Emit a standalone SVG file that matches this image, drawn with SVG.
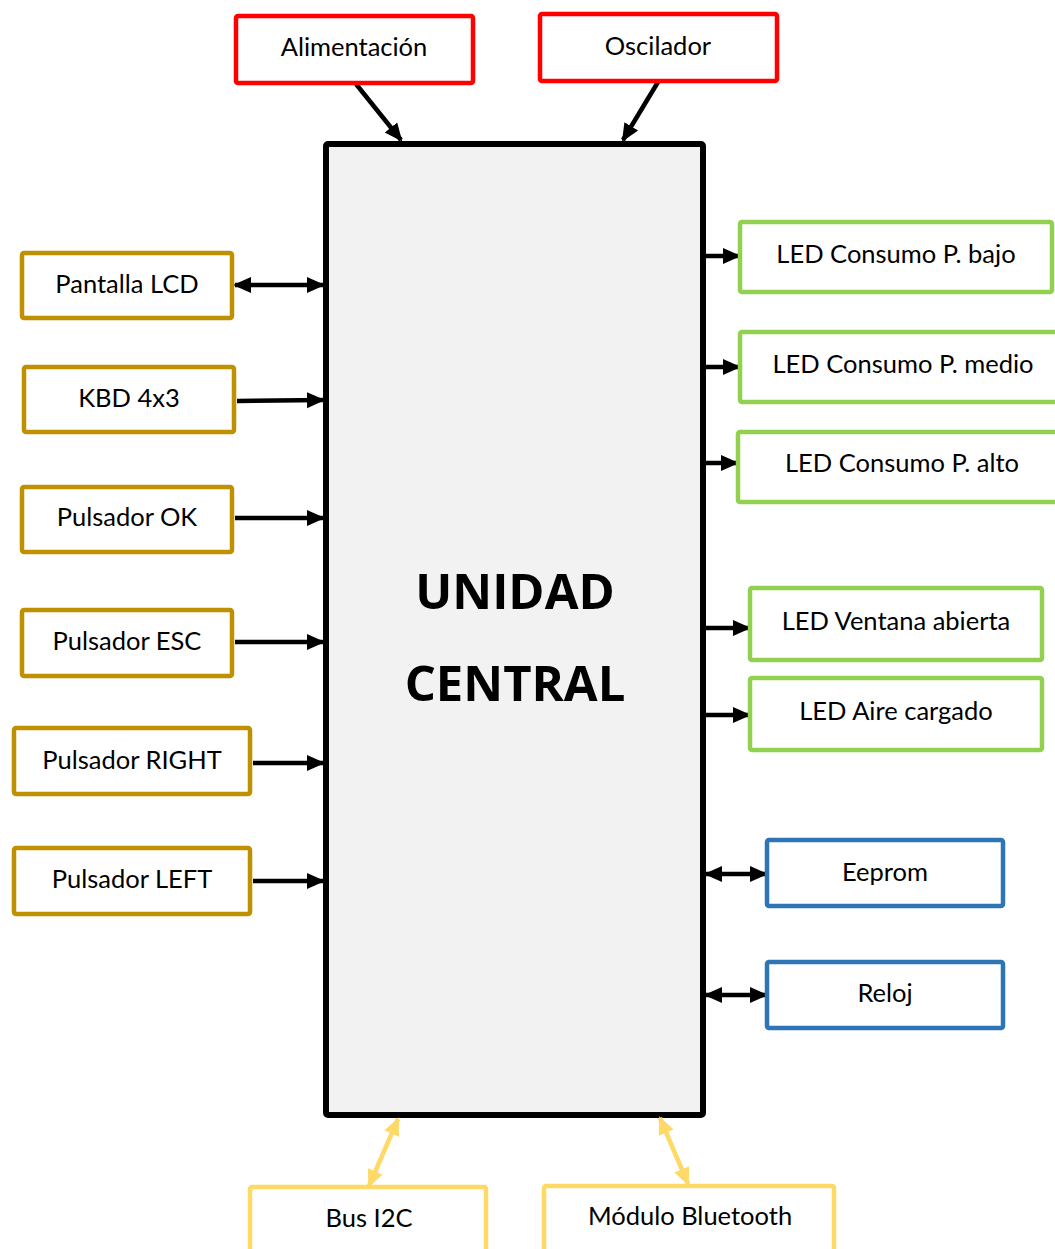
<svg xmlns="http://www.w3.org/2000/svg" width="1055" height="1249" viewBox="0 0 1055 1249">
<style>
.n rect{fill:#fff;stroke-width:4.5}
.red rect{stroke:#ff0000}
.gold rect{stroke:#bf9000}
.green rect{stroke:#92d050}
.blue rect{stroke:#2e75b6}
.yel rect{stroke:#ffd966}
text{font-family:Lato,"Liberation Sans",sans-serif;font-size:25.5px;fill:#000;text-anchor:middle;dominant-baseline:central}
.big{font-family:"Open Sans","Liberation Sans",sans-serif;font-size:49px;font-weight:bold}
.c line{stroke:#000;stroke-width:4.5}
.c line.y{stroke:#ffd966}
</style>
<defs>
<marker id="a" markerUnits="userSpaceOnUse" markerWidth="18" markerHeight="18" refX="16" refY="9" orient="auto-start-reverse" viewBox="0 0 18 18"><path d="M0,1 L18,9 L0,17 Z" fill="#000"/></marker>
<marker id="ay" markerUnits="userSpaceOnUse" markerWidth="18" markerHeight="18" refX="16" refY="9" orient="auto-start-reverse" viewBox="0 0 18 18"><path d="M0,1 L18,9 L0,17 Z" fill="#ffd966"/></marker>
</defs>
<rect width="1055" height="1249" fill="#fff"/>
<g id="central">
<rect x="326" y="144" width="377" height="971" fill="#f2f2f2" stroke="#000" stroke-width="6" rx="2"/>
<text class="big" x="515" y="590">UNIDAD</text>
<text class="big" x="515" y="682">CENTRAL</text>
</g>
<g class="c">
<line x1="356" y1="84" x2="401" y2="140" marker-end="url(#a)"/>
<line x1="658" y1="82" x2="623" y2="140" marker-end="url(#a)"/>
<line x1="235" y1="285" x2="323" y2="285" marker-start="url(#a)" marker-end="url(#a)"/>
<line x1="237" y1="401" x2="323" y2="400" marker-end="url(#a)"/>
<line x1="235" y1="518" x2="323" y2="518" marker-end="url(#a)"/>
<line x1="235" y1="642" x2="323" y2="642" marker-end="url(#a)"/>
<line x1="253" y1="763" x2="323" y2="763" marker-end="url(#a)"/>
<line x1="253" y1="881" x2="323" y2="881" marker-end="url(#a)"/>
<line x1="706" y1="256" x2="739" y2="256" marker-end="url(#a)"/>
<line x1="706" y1="367" x2="739" y2="367" marker-end="url(#a)"/>
<line x1="706" y1="463" x2="737" y2="463" marker-end="url(#a)"/>
<line x1="706" y1="628" x2="749" y2="628" marker-end="url(#a)"/>
<line x1="706" y1="715" x2="749" y2="715" marker-end="url(#a)"/>
<line x1="706" y1="874" x2="766" y2="874" marker-start="url(#a)" marker-end="url(#a)"/>
<line x1="706" y1="995" x2="766" y2="995" marker-start="url(#a)" marker-end="url(#a)"/>
<line class="y" x1="398" y1="1119" x2="369" y2="1186" marker-start="url(#ay)" marker-end="url(#ay)"/>
<line class="y" x1="660" y1="1118" x2="688" y2="1184" marker-start="url(#ay)" marker-end="url(#ay)"/>
</g>
<g id="alimentacion" class="n red"><rect x="236" y="16" width="237" height="67" rx="2"/><text x="354" y="46">Alimentación</text></g>
<g id="oscilador" class="n red"><rect x="540" y="14" width="237" height="67" rx="2"/><text x="658" y="45">Oscilador</text></g>
<g id="lcd" class="n gold"><rect x="22" y="253" width="210" height="65" rx="2"/><text x="127" y="283">Pantalla LCD</text></g>
<g id="kbd" class="n gold"><rect x="24" y="367" width="210" height="65" rx="2"/><text x="129" y="397">KBD 4x3</text></g>
<g id="ok" class="n gold"><rect x="22" y="487" width="210" height="65" rx="2"/><text x="127" y="516">Pulsador OK</text></g>
<g id="esc" class="n gold"><rect x="22" y="610" width="210" height="66" rx="2"/><text x="127" y="640">Pulsador ESC</text></g>
<g id="right" class="n gold"><rect x="14" y="728" width="236" height="66" rx="2"/><text x="132" y="759">Pulsador RIGHT</text></g>
<g id="left" class="n gold"><rect x="14" y="848" width="236" height="66" rx="2"/><text x="132" y="878">Pulsador LEFT</text></g>
<g id="bajo" class="n green"><rect x="740" y="222" width="312" height="70" rx="2"/><text x="896" y="253">LED Consumo P. bajo</text></g>
<g id="medio" class="n green"><rect x="740" y="332" width="320" height="70" rx="2"/><text x="903" y="363">LED Consumo P. medio</text></g>
<g id="alto" class="n green"><rect x="738" y="432" width="322" height="70" rx="2"/><text x="902" y="462">LED Consumo P. alto</text></g>
<g id="ventana" class="n green"><rect x="750" y="588" width="292" height="72" rx="2"/><text x="896" y="620">LED Ventana abierta</text></g>
<g id="aire" class="n green"><rect x="750" y="678" width="292" height="72" rx="2"/><text x="896" y="710">LED Aire cargado</text></g>
<g id="eeprom" class="n blue"><rect x="767" y="840" width="236" height="66" rx="2"/><text x="885" y="871">Eeprom</text></g>
<g id="reloj" class="n blue"><rect x="767" y="962" width="236" height="66" rx="2"/><text x="885" y="992">Reloj</text></g>
<g id="i2c" class="n yel"><rect x="250" y="1187" width="236" height="80" rx="2"/><text x="369" y="1217">Bus I2C</text></g>
<g id="bt" class="n yel"><rect x="544" y="1186" width="290" height="80" rx="2"/><text x="690" y="1215">Módulo Bluetooth</text></g>
</svg>
